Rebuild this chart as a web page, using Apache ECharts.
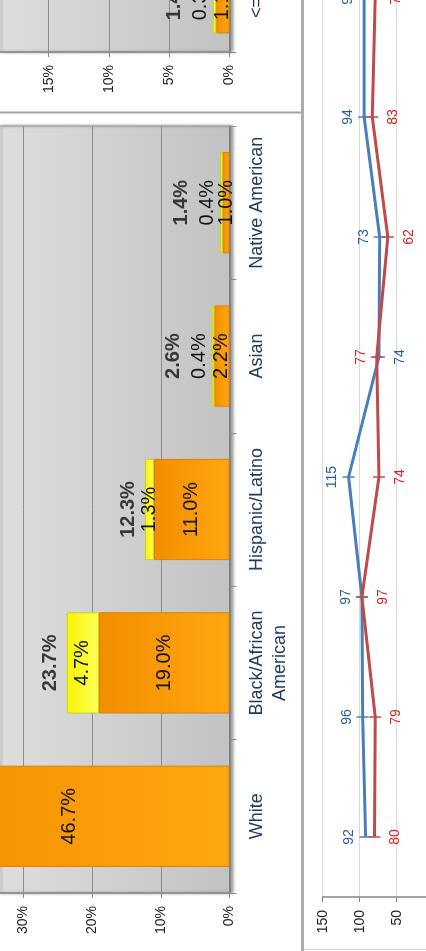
<!DOCTYPE html>
<html>
<head>
<meta charset="utf-8">
<title>Chart</title>
<script src="https://cdn.jsdelivr.net/npm/echarts/dist/echarts.min.js"></script>
<style>
	html, body { margin: 0; padding: 0; background: #fff; }
	#main { width: 426px; height: 951px; }
</style>
</head>
<body>
<div id="main"></div>
<script>
	// main stacked bar chart (percent)
	var categories = ['White', 'Black/African\nAmerican', 'Hispanic/Latino', 'Asian', 'Native American'];
	var baseValues = [46.7, 19.0, 11.0, 2.2, 1.0];
	var extraValues = [null, 4.7, 1.3, 0.4, 0.4];
	var totalValues = [null, 23.7, 12.3, 2.6, 1.4];

	// chart above it, only the last bar is in view
	var topCategories = ['<=18'];
	var topBaseValues = [1.1];
	var topExtraValues = [0.3];
	var topTotalValues = [1.4];

	// index lines on the right
	var lineCategories = ['1', '2', '3', '4', '5', '6', '7', '8'];
	var blueValues = [92, 96, 97, 115, 74, 73, 94, 94];
	var redValues = [80, 79, 97, 74, 77, 62, 83, 79];

	var font = 'Liberation Sans';
	var navy = '#1F3A63';

	function plotBack() {
		return {
			type: 'linear', x: 0, y: 0, x2: 1, y2: 0,
			colorStops: [{offset: 0, color: '#dedede'}, {offset: 1, color: '#c2c2c2'}]
		};
	}
	var orangeFill = {
		type: 'linear', x: 0, y: 0, x2: 1, y2: 0,
		colorStops: [{offset: 0, color: '#F28E00'}, {offset: 1, color: '#FFA70E'}]
	};
	var yellowFill = {
		type: 'linear', x: 0, y: 0, x2: 1, y2: 0,
		colorStops: [{offset: 0, color: '#F4F400'}, {offset: 1, color: '#FFFF5A'}]
	};

	function pct(p) {
		var v = Array.isArray(p.value) ? p.value[0] : p.value;
		return v.toFixed(1) + '%';
	}

	// small segments get their label outside the bar
	function extraData(values) {
		var out = [];
		for (var i = 0; i < values.length; i++) {
			var v = values[i];
			if (v == null) { out.push('-'); continue; }
			var item = {value: v};
			if (v < 1) {
				item.label = {position: 'left', distance: 2, align: 'center', verticalAlign: 'bottom'};
			}
			out.push(item);
		}
		return out;
	}

	function totalData(totals, extras) {
		var out = [];
		for (var i = 0; i < totals.length; i++) {
			if (totals[i] == null) continue;
			var gap = extras[i] < 1 ? 28 : 6;
			out.push({value: [totals[i], i], label: {distance: gap}});
		}
		return out;
	}

	function lineData(mine, other, first) {
		var out = [];
		for (var i = 0; i < mine.length; i++) {
			var up = first ? mine[i] >= other[i] : mine[i] > other[i];
			out.push({
				value: mine[i],
				label: up ?
					{position: 'left', distance: 3, align: 'center', verticalAlign: 'bottom'} :
					{position: 'right', distance: 8, align: 'center', verticalAlign: 'top'}
			});
		}
		return out;
	}

	function valueAxis(grid, max, interval) {
		return {
			type: 'value', gridIndex: grid, inverse: true, min: 0, max: max, interval: interval,
			position: 'bottom',
			axisLine: {show: true, lineStyle: {color: '#8a8a8a', width: 1.5}},
			axisTick: {show: true, length: 5, lineStyle: {color: '#8a8a8a'}},
			splitLine: {show: true, lineStyle: {color: '#8e8e8e', width: 1}},
			axisLabel: {
				rotate: 90, margin: 13, showMaxLabel: false, formatter: '{value}%',
				fontFamily: font, fontSize: 14, color: '#222'
			}
		};
	}

	function categoryAxis(grid, data) {
		return {
			type: 'category', gridIndex: grid, position: 'right', data: data,
			axisLine: {show: true, lineStyle: {color: '#7a7a7a', width: 1.5}},
			axisTick: {show: true, length: 7, lineStyle: {color: '#8a8a8a'}},
			axisLabel: {
				interval: 0, hideOverlap: false,
				rotate: 90, margin: 16, align: 'center', verticalAlign: 'top',
				fontFamily: font, fontSize: 18, lineHeight: 23, color: navy
			}
		};
	}

	function barSeries(grid, stack, base, extra, totals) {
		var labelStyle = {fontFamily: font, fontSize: 20, color: '#111'};
		return [{
			type: 'bar', xAxisIndex: grid, yAxisIndex: grid, stack: stack,
			barWidth: '66%', clip: false, data: base,
			itemStyle: {color: orangeFill, borderColor: '#DB8200', borderWidth: 1},
			label: Object.assign({show: true, position: 'inside', rotate: 90, formatter: pct}, labelStyle)
		}, {
			type: 'bar', xAxisIndex: grid, yAxisIndex: grid, stack: stack,
			barWidth: '66%', clip: false, data: extraData(extra),
			itemStyle: {color: yellowFill, borderColor: '#CFCF20', borderWidth: 1},
			label: Object.assign({show: true, position: 'inside', rotate: 90, formatter: pct}, labelStyle)
		}, {
			type: 'scatter', xAxisIndex: grid, yAxisIndex: grid, symbolSize: 1, silent: true,
			itemStyle: {color: 'rgba(0,0,0,0)'},
			data: totalData(totals, extra),
			label: Object.assign({
				show: true, position: 'left', rotate: 90, align: 'center', verticalAlign: 'bottom',
				formatter: pct, fontWeight: 'bold'
			}, labelStyle)
		}];
	}

	var gridCommon = {
		show: true, backgroundColor: plotBack(), borderWidth: 1, borderColor: '#9a9a9a',
		shadowColor: 'rgba(0,0,0,0.35)', shadowBlur: 3, shadowOffsetX: 3, shadowOffsetY: 0,
		outerBoundsMode: 'none', containLabel: false
	};

	var option = {
		animation: false,
		backgroundColor: '#ffffff',
		grid: [
			Object.assign({left: -2, right: 196.5, top: -57, bottom: 899}, gridCommon),
			Object.assign({left: -2, right: 196.5, top: 126, bottom: 58}, gridCommon),
			{left: 322.7, right: -7.7, top: -63, bottom: 54, outerBoundsMode: 'none', containLabel: false}
		],
		xAxis: [
			valueAxis(0, 19.2, 5),
			valueAxis(1, 33.7, 10),
			{
				type: 'value', gridIndex: 2, inverse: true, min: 0, max: 150, interval: 50,
				position: 'bottom',
				axisLine: {show: true, lineStyle: {color: '#868686', width: 1.5}},
				axisTick: {show: true, length: 5, lineStyle: {color: '#868686'}},
				splitLine: {show: true, lineStyle: {color: '#d9d9d9', width: 1}},
				axisLabel: {rotate: 90, margin: 13, fontFamily: font, fontSize: 14, color: '#222'}
			}
		],
		yAxis: [
			categoryAxis(0, topCategories),
			categoryAxis(1, categories),
			{
				type: 'category', gridIndex: 2, position: 'right', data: lineCategories, boundaryGap: true,
				axisLine: {show: false}, axisTick: {show: false}, axisLabel: {show: false}
			}
		],
		series: [].concat(
			barSeries(0, 'top', topBaseValues, topExtraValues, topTotalValues),
			barSeries(1, 'main', baseValues, extraValues, totalValues),
			[{
				type: 'line', xAxisIndex: 2, yAxisIndex: 2, data: lineData(blueValues, redValues, true),
				symbol: 'rect', symbolSize: [12, 1.5], showAllSymbol: true,
				lineStyle: {color: '#4A7EBB', width: 3},
				itemStyle: {color: '#4A7EBB'},
				label: {show: true, rotate: 90, fontFamily: font, fontSize: 14, color: '#2B5C9E'}
			}, {
				type: 'line', xAxisIndex: 2, yAxisIndex: 2, data: lineData(redValues, blueValues, false),
				symbol: 'rect', symbolSize: [12, 1.5], showAllSymbol: true,
				lineStyle: {color: '#BE4B48', width: 3},
				itemStyle: {color: '#BE4B48'},
				label: {show: true, rotate: 90, fontFamily: font, fontSize: 14, color: '#E0201C'}
			}]
		),
		graphic: [
			{type: 'line', shape: {x1: 302.5, y1: 0, x2: 302.5, y2: 951}, style: {stroke: '#ababab', lineWidth: 3}},
			{type: 'line', shape: {x1: 0, y1: 112.5, x2: 301, y2: 112.5}, style: {stroke: '#a3a3a3', lineWidth: 2}},
			{type: 'line', shape: {x1: 304, y1: 949.5, x2: 426, y2: 949.5}, style: {stroke: '#d4d4d4', lineWidth: 1}}
		]
	};

	var myChart = echarts.init(document.getElementById('main'));
	myChart.setOption(option);
</script>
</body>
</html>
